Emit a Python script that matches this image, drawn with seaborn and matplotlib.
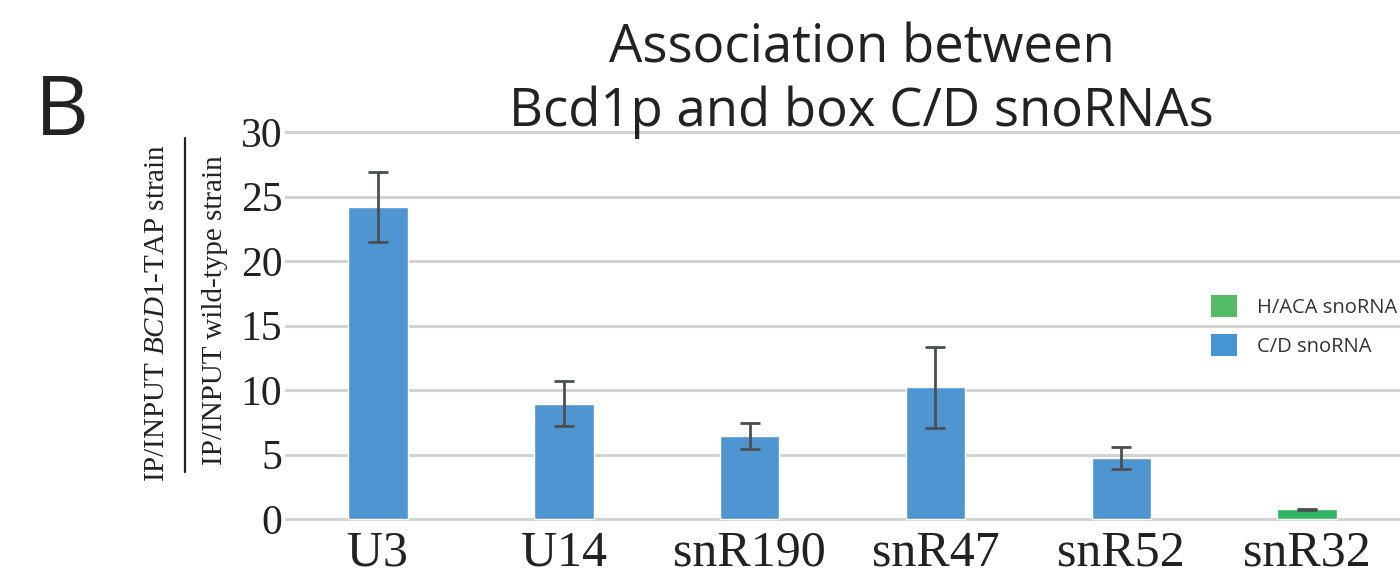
import matplotlib
matplotlib.use("Agg")
import matplotlib.pyplot as plt
import seaborn as sns
import pandas as pd
from matplotlib.patches import Patch
from matplotlib.lines import Line2D

categories = ["U3", "U14", "snR190", "snR47", "snR52", "snR32"]
values = [24.2, 8.95, 6.45, 10.2, 4.75, 0.75]
errors = [2.7, 1.75, 1.0, 3.15, 0.85, 0.05]
types = ["C/D snoRNA", "C/D snoRNA", "C/D snoRNA", "C/D snoRNA", "C/D snoRNA", "H/ACA snoRNA"]
yticks = [0, 5, 10, 15, 20, 25, 30]

BLUE = "#4E95D1"
GREEN = "#30B662"
LEG_GREEN = "#55BB66"
LEG_BLUE = "#4594D3"

sns.set_theme(style="white")
plt.rcParams["mathtext.fontset"] = "custom"
plt.rcParams["mathtext.rm"] = "Liberation Serif"
plt.rcParams["mathtext.it"] = "Liberation Serif:italic"

df = pd.DataFrame({"cat": categories, "val": values, "err": errors, "type": types})

fig = plt.figure(figsize=(14, 5.77), dpi=100)
ax = fig.add_axes([0.2036, 0.096, 0.7964, 0.6797])

sns.barplot(data=df, x="cat", y="val", hue="type",
            palette={"C/D snoRNA": BLUE, "H/ACA snoRNA": GREEN},
            dodge=False, width=0.32, ax=ax, legend=False, zorder=3,
            saturation=1)
ax.errorbar(x=list(range(len(categories))), y=df["val"], yerr=df["err"],
            fmt="none", ecolor="#4A4F53", elinewidth=2, capsize=7,
            capthick=2, zorder=4)

ax.set_xlim(-0.5, len(categories) - 0.5)
ax.set_ylim(-0.2, 30.2)
ax.set_yticks(yticks)
ax.set_yticklabels([str(t) for t in yticks], family="Liberation Serif",
                   fontsize=30, color="#222222")
ax.set_xticks(range(len(categories)))
ax.set_xticklabels(categories, family="Liberation Serif", fontsize=36,
                   color="#222222")
ax.tick_params(axis="both", length=0)
ax.tick_params(axis="y", pad=2)
ax.tick_params(axis="x", pad=6)
ax.grid(axis="y", color="#D3D3D3", linewidth=2.2, zorder=0)
ax.set_axisbelow(True)
for s in ax.spines.values():
    s.set_visible(False)
ax.set_xlabel("")
ax.set_ylabel("")

# Title and panel letter
fig.text(0.6155, 0.781, "Association between\nBcd1p and box C/D snoRNAs",
         ha="center", va="baseline", family="Open Sans", fontsize=38,
         color="#222222", linespacing=1.25)
fig.text(0.025, 0.766, "B", ha="left", va="baseline", family="Open Sans",
         fontsize=60, color="#222222")

# Y-axis label as a fraction
fig.text(0.1125, 0.4575, "IP/INPUT $\\mathit{BCD1}$-TAP strain", rotation=90,
         ha="center", va="center", family="Liberation Serif", fontsize=21,
         color="#222222")
fig.add_artist(Line2D([0.132, 0.132], [0.182, 0.761], color="#222222",
                      linewidth=1.6, transform=fig.transFigure))
fig.text(0.1536, 0.463, "IP/INPUT wild-type strain", rotation=90,
         ha="center", va="center", family="Liberation Serif", fontsize=21,
         color="#222222")

# Legend
handles = [Patch(facecolor=LEG_GREEN, edgecolor="none", label="H/ACA snoRNA"),
           Patch(facecolor=LEG_BLUE, edgecolor="none", label="C/D snoRNA")]
leg = fig.legend(handles=handles, loc="center left",
                 bbox_to_anchor=(0.852, 0.435), frameon=False,
                 prop={"family": "Open Sans", "size": 14.5},
                 handlelength=1.3, handleheight=1.3, handletextpad=1.0,
                 labelspacing=0.8)
for t in leg.get_texts():
    t.set_color("#333333")

fig.savefig("out.png", dpi=100)
